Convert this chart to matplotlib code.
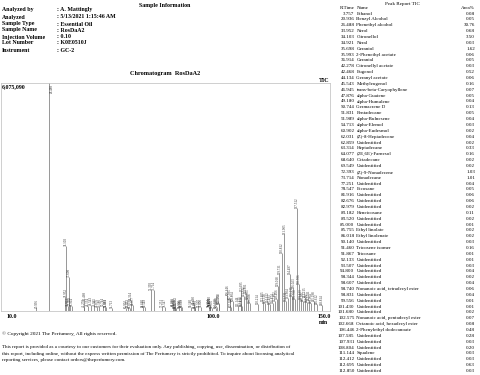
import matplotlib
matplotlib.use("Agg")
import matplotlib.pyplot as plt

plt.rcParams['font.family'] = ['Liberation Serif', 'DejaVu Serif']

# ---------------- data ----------------
info_labels = ["Analyzed by", "Analyzed", "Sample Type", "Sample Name",
               "Injection Volume", "Lot Number", "Instrument"]
info_values = [": A. Mattingly", ": 5/13/2021 1:15:46 AM", ": Essential Oil",
               ": RosDaA2", ": 0.10", ": K0E0510J", ": GC-2"]

table_rt = [3.757, 20.936, 26.488, 33.952, 34.103, 34.921, 35.698, 35.993, 36.914,
            42.278, 42.468, 44.134, 45.543, 46.945, 47.876, 49.180, 50.744, 51.831,
            51.989, 54.713, 60.902, 62.031, 62.859, 63.314, 64.077, 68.640, 69.549,
            72.393, 73.714, 77.251, 78.547, 81.916, 82.676, 82.979, 83.182, 83.520,
            85.000, 85.755, 86.018, 90.140, 91.460, 91.867, 92.133, 93.507, 94.800,
            98.344, 98.607, 98.740, 98.831, 99.556, 101.430, 101.680, 102.575,
            102.668, 106.446, 107.585, 107.931, 108.804, 111.144, 112.412, 112.695,
            112.850]
table_names = ["Ethanol", "Benzyl Alcohol", "Phenethyl alcohol", "Nerol", "Citronellol",
               "Neral", "Geraniol", "2-Phenethyl acetate", "Geranial", "Citronellyl acetate",
               "Eugenol", "Geranyl acetate", "Methyleugenol", "trans-beta-Caryophyllene",
               "alpha-Guaiene", "alpha-Humulene", "Germacrene D", "Pentadecane",
               "alpha-Bulnesene", "alpha-Elemol", "alpha-Eudesmol", "(Z)-8-Heptadecene",
               "Unidentified", "Heptadecane", "(2E,6E)-Farnesol", "Octadecane",
               "Unidentified", "(Z)-9-Nonadecene", "Nonadecane", "Unidentified",
               "Eicosane", "Unidentified", "Unidentified", "Unidentified", "Heneicosane",
               "Unidentified", "Unidentified", "Ethyl linolate", "Ethyl linolenate",
               "Unidentified", "Tricosene isomer", "Tricosane", "Unidentified",
               "Unidentified", "Unidentified", "Unidentified", "Unidentified",
               "Nonanoic acid, tetradecyl ester", "Unidentified", "Unidentified",
               "Unidentified", "Unidentified", "Nonanoic acid, pentadecyl ester",
               "Octanoic acid, hexadecyl ester", "2-Phenylethyl dodecanoate",
               "Unidentified", "Unidentified", "Unidentified", "Squalene",
               "Unidentified", "Unidentified", "Unidentified"]
table_area = ["0.08", "0.05", "30.76", "0.68", "3.50", "0.03", "1.62", "0.06", "0.05",
              "0.03", "0.52", "0.06", "0.16", "0.07", "0.05", "0.04", "0.13", "0.05",
              "0.04", "0.03", "0.02", "0.04", "0.02", "0.33", "0.16", "0.02", "0.02",
              "1.03", "1.01", "0.04", "0.05", "0.06", "0.06", "0.02", "0.11", "0.02",
              "0.01", "0.02", "0.02", "0.03", "0.16", "0.01", "0.01", "0.03", "0.04",
              "0.02", "0.04", "0.06", "0.04", "0.01", "0.01", "0.02", "0.07", "0.08",
              "0.48", "0.28", "0.03", "0.20", "0.03", "0.03", "0.63", "0.03"]

# chromatogram peaks (retention time in min, height in counts)
peak_rt = [20.936, 26.488, 33.952, 34.103, 34.921, 35.698, 35.993, 36.914,
           42.278, 42.468, 44.134, 45.543, 46.945, 47.876, 49.180, 50.744, 51.831,
           51.989, 54.713, 60.902, 62.031, 62.859, 63.314, 64.077, 68.640, 69.549,
           72.393, 73.714, 77.251, 78.547, 81.916, 82.676, 82.979, 83.182, 83.520,
           85.000, 85.755, 86.018, 90.140, 91.460, 91.867, 92.133, 93.507, 94.800,
           98.344, 98.607, 98.740, 98.831, 99.556, 101.430, 101.680, 102.575,
           102.668, 106.446, 107.585, 107.931, 108.804, 111.144, 112.412, 112.695,
           112.850, 113.912, 114.801, 115.703, 116.588, 120.214, 122.405, 123.318,
           124.612, 125.493, 126.874, 127.802, 128.466, 129.018, 129.731, 130.812,
           131.905, 132.711, 133.604, 134.497, 135.215, 136.023, 136.708, 137.512,
           138.506, 139.413, 140.301, 141.215, 142.087, 143.011, 143.904, 145.298,
           146.612, 148.814]
peak_height = [80000, 6930000, 373000, 1732000, 133000, 906000, 160000, 133000,
               107000, 293000, 133000, 160000, 133000, 107000, 107000, 133000, 107000,
               107000, 80000, 80000, 107000, 80000, 293000, 160000, 107000, 107000,
               560000, 560000, 107000, 107000, 133000, 133000, 80000, 160000, 80000,
               80000, 107000, 107000, 107000, 187000, 80000, 80000, 107000, 107000,
               107000, 133000, 187000, 133000, 80000, 80000, 107000, 187000,
               213000, 426000, 320000, 107000, 266000, 133000, 133000, 533000,
               133000, 400000, 480000, 320000, 213000, 187000, 266000, 213000,
               240000, 187000, 213000, 266000, 320000, 666000, 986000, 1545000,
               2052000, 266000, 346000, 986000, 400000, 613000, 320000, 2744000,
               720000, 320000, 266000, 373000, 240000, 293000, 213000, 266000,
               187000, 160000]

y_max = 6075090
x_ticks = [10.0, 100.0, 150.0]

# ---------------- figure ----------------
W, H = 480, 375
fig = plt.figure(figsize=(W / 100, H / 100), dpi=100)

def fx(px):
    return px / W

def fy(py):
    return 1 - py / H

# header
fig.text(fx(165), fy(5), "Sample Information", ha="center", va="center",
         fontsize=4.3, fontweight="bold")
info_y = [10, 17, 24, 30, 37, 43, 51]
for lab, val, yy in zip(info_labels, info_values, info_y):
    fig.text(fx(2), fy(yy), lab, ha="left", va="center", fontsize=4.2, fontweight="bold")
    fig.text(fx(57), fy(yy), val, ha="left", va="center", fontsize=4.2, fontweight="bold")

fig.text(fx(165), fy(74), "Chromatogram  RosDaA2", ha="center", va="center",
         fontsize=4.5, fontweight="bold")

# chart axes
left, right, top, bottom = 1, 330, 83, 311
ax = fig.add_axes([fx(left), fy(bottom), fx(right) - fx(left), fy(top) - fy(bottom)])
ax.set_xlim(5.1, 152.4)
ax.set_ylim(0, y_max)
for s in ax.spines.values():
    s.set_color("#c8c8c8")
    s.set_linewidth(0.6)
ax.set_yticks([])
ax.set_xticks(x_ticks)
ax.set_xticklabels([f"{v:.1f}" for v in x_ticks], fontsize=4.2, fontweight="bold")
ax.tick_params(axis="x", length=0, pad=2)
ax.axhline(0, color="#888888", lw=0.5)

ax.vlines(peak_rt, 0, peak_height, color="#6e6e6e", lw=0.5)
for t, h in zip(peak_rt, peak_height):
    if h > y_max:
        ax.annotate(f"{t:.3f}", (t, y_max), xytext=(2.2, -1), textcoords="offset points",
                    rotation=90, ha="center", va="top", fontsize=2.3, color="#333333")
    else:
        ax.annotate(f"{t:.3f}", (t, h), xytext=(0, 0.3), textcoords="offset points",
                    rotation=90, ha="center", va="bottom", fontsize=2.3,
                    color="#333333", annotation_clip=True)

fig.text(fx(2), fy(87), f"{y_max:,}", ha="left", va="center", fontsize=4.2,
         fontweight="bold")
fig.text(fx(right), fy(80), "TIC", ha="right", va="center", fontsize=4.3,
         fontweight="bold")
fig.text(fx(323), fy(323), "min", ha="center", va="center", fontsize=4.0,
         fontweight="bold")

# footer
fig.text(fx(2), fy(334), "\u00a9 Copyright 2021 The Perfumery, All rights reserved.",
         ha="left", va="center", fontsize=3.8)
para = ["This report is provided as a courtesy to our customers for their evaluation only. "
        "Any publishing, copying, use, dissemination, or distribution of",
        "this report, including online, without the express written permission of The "
        "Perfumery is strictly prohibited. To inquire about licensing analytical",
        "reporting services, please contact orders@theperfumery.com."]
for i, line in enumerate(para):
    fig.text(fx(2), fy(347 + i * 6.7), line, ha="left", va="center", fontsize=3.6)

# peak report table
fig.text(fx(402), fy(3.5), "Peak Report TIC", ha="center", va="center", fontsize=3.7)
fig.text(fx(354.5), fy(8), "R.Time", ha="right", va="center", fontsize=3.6)
fig.text(fx(356.5), fy(8), "Name", ha="left", va="center", fontsize=3.6)
fig.text(fx(475), fy(8), "Area%", ha="right", va="center", fontsize=3.6)
for i, (rt, nm, ar) in enumerate(zip(table_rt, table_names, table_area)):
    yy = 13.6 + i * 5.86
    fig.text(fx(354.5), fy(yy), f"{rt:.3f}", ha="right", va="center", fontsize=3.6)
    fig.text(fx(356.5), fy(yy), nm, ha="left", va="center", fontsize=3.6)
    fig.text(fx(475), fy(yy), ar, ha="right", va="center", fontsize=3.6)

fig.savefig("out.png", dpi=100)
